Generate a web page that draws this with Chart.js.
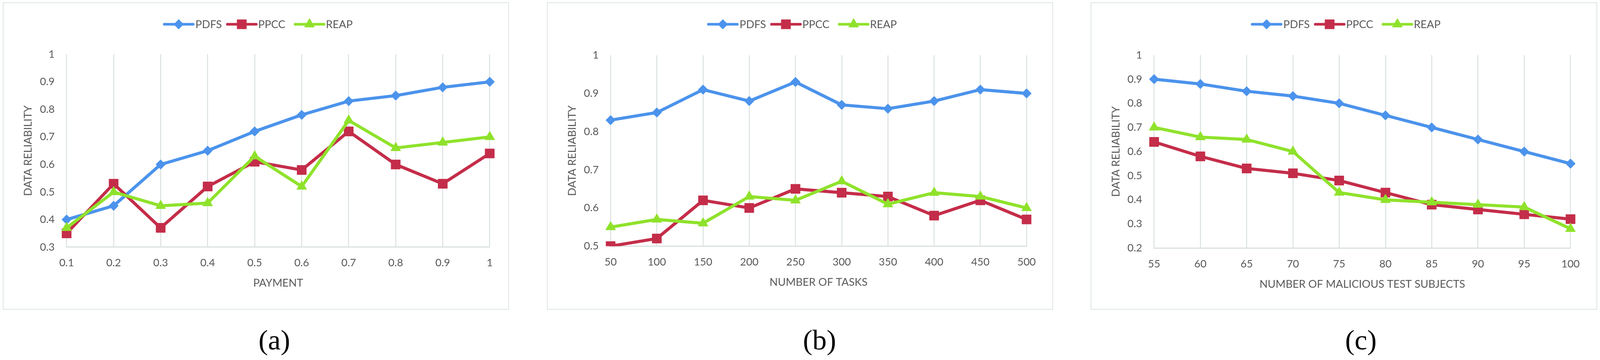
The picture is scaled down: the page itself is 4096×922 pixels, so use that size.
<!DOCTYPE html>
<html>
<head>
<meta charset="utf-8">
<script src="https://cdn.jsdelivr.net/npm/chart.js@4.4.0/dist/chart.umd.min.js"></script>
<style>
  html, body { margin: 0; padding: 0; background: #fff; }
  #page { position: relative; width: 4096px; height: 922px; overflow: hidden; background: #fff; }
  .panel { position: absolute; box-sizing: border-box; border: 2px solid #dde3e3; background: #fff; }
  .panel canvas { position: absolute; left: 0; top: 0; }
  .caption { position: absolute; font-family: "Liberation Serif", "Times New Roman", serif; color: #000;
             line-height: 1; white-space: nowrap; transform: translateX(-50%); }
</style>
</head>
<body>
<div id="page"></div>
<script>
// everything is laid out in reference pixels and drawn at 0.985
const S = 0.985;

const seriesNames = ["PDFS", "PPCC", "REAP"];
const yTitle = "DATA RELIABILITY";

// (a) payment
const paymentLabels = ["0.1", "0.2", "0.3", "0.4", "0.5", "0.6", "0.7", "0.8", "0.9", "1"];
const paymentPDFS = [0.40, 0.45, 0.60, 0.65, 0.72, 0.78, 0.83, 0.85, 0.88, 0.90];
const paymentPPCC = [0.35, 0.53, 0.37, 0.52, 0.61, 0.58, 0.72, 0.60, 0.53, 0.64];
const paymentREAP = [0.37, 0.50, 0.45, 0.46, 0.63, 0.52, 0.76, 0.66, 0.68, 0.70];

// (b) number of tasks
const taskLabels = ["50", "100", "150", "200", "250", "300", "350", "400", "450", "500"];
const taskPDFS = [0.83, 0.85, 0.91, 0.88, 0.93, 0.87, 0.86, 0.88, 0.91, 0.90];
const taskPPCC = [0.50, 0.52, 0.62, 0.60, 0.65, 0.64, 0.63, 0.58, 0.62, 0.57];
const taskREAP = [0.55, 0.57, 0.56, 0.63, 0.62, 0.67, 0.61, 0.64, 0.63, 0.60];

// (c) number of malicious test subjects
const maliciousLabels = ["55", "60", "65", "70", "75", "80", "85", "90", "95", "100"];
const maliciousPDFS = [0.90, 0.88, 0.85, 0.83, 0.80, 0.75, 0.70, 0.65, 0.60, 0.55];
const maliciousPPCC = [0.64, 0.58, 0.53, 0.51, 0.48, 0.43, 0.38, 0.36, 0.34, 0.32];
const maliciousREAP = [0.70, 0.66, 0.65, 0.60, 0.43, 0.40, 0.39, 0.38, 0.37, 0.28];

const TEXT = "#595959";
const GRID = "#dae1e1";
const FONT = "Lato, 'Open Sans', sans-serif";
const colors = ["#4b93ec", "#c42d49", "#8fe22b"];
const pointStyles = ["rectRot", "rect", "triangle"];
const pointRadii = [12.5, 17, 15];

// panel geometry (reference px). chart area given in canvas coords
const BOX_W = 1316, BOX_H = 799, BOX_TOP = 6, BORDER = 2;
const CW = BOX_W - 2 * BORDER, CH = BOX_H - 2 * BORDER;
const panels = [
  { labels: paymentLabels, values: [paymentPDFS, paymentPPCC, paymentREAP], yMin: 0.3,
    xTitle: "PAYMENT", caption: "(a)", boxLeft: 7, captionX: 713,
    left: 164, right: 1264, top: 133, bottom: 634.5 },
  { labels: taskLabels, values: [taskPDFS, taskPPCC, taskREAP], yMin: 0.5,
    xTitle: "NUMBER OF TASKS", caption: "(b)", boxLeft: 1421, captionX: 2130,
    left: 163.6, right: 1245, top: 135.5, bottom: 632 },
  { labels: maliciousLabels, values: [maliciousPDFS, maliciousPPCC, maliciousREAP], yMin: 0.2,
    xTitle: "NUMBER OF MALICIOUS TEST SUBJECTS", caption: "(c)", boxLeft: 2835, captionX: 3537,
    left: 163, right: 1245.5, top: 135, bottom: 637 }
];

// legend offsets from canvas centre
const LEGEND_Y = 55;
const legendLineX = [-238, -74, 102];
const legendTextX = [-157, 6, 182];
const LEGEND_LINE_LEN = 75;

const legendPlugin = {
  id: "refLegend",
  afterDraw(chart) {
    const ctx = chart.ctx;
    const cx = chart.width / 2;
    const cy = LEGEND_Y * S;
    ctx.save();
    chart.data.datasets.forEach((ds, i) => {
      const x0 = cx + legendLineX[i] * S;
      const x1 = x0 + LEGEND_LINE_LEN * S;
      ctx.strokeStyle = ds.borderColor;
      ctx.fillStyle = ds.borderColor;
      ctx.lineWidth = 7 * S;
      ctx.lineCap = "round";
      ctx.beginPath();
      ctx.moveTo(x0, cy);
      ctx.lineTo(x1, cy);
      ctx.stroke();
      ctx.lineWidth = 1;
      Chart.helpers.drawPoint(ctx, { pointStyle: ds.pointStyle, radius: ds.pointRadius, borderWidth: 1, rotation: 0 },
        (x0 + x1) / 2, cy);
      ctx.fillStyle = TEXT;
      ctx.font = (28 * S) + "px " + FONT;
      ctx.textAlign = "left";
      ctx.textBaseline = "middle";
      ctx.fillText(ds.label, cx + legendTextX[i] * S, cy + 1);
    });
    ctx.restore();
  }
};

const page = document.getElementById("page");

panels.forEach((p) => {
  const box = document.createElement("div");
  box.className = "panel";
  box.style.left = (p.boxLeft * S) + "px";
  box.style.top = (BOX_TOP * S) + "px";
  box.style.width = (BOX_W * S) + "px";
  box.style.height = (BOX_H * S) + "px";
  const canvas = document.createElement("canvas");
  canvas.width = Math.round(CW * S);
  canvas.height = Math.round(CH * S);
  box.appendChild(canvas);
  page.appendChild(box);

  const cap = document.createElement("div");
  cap.className = "caption";
  cap.textContent = p.caption;
  cap.style.left = (p.captionX * S) + "px";
  cap.style.top = (848 * S) + "px";
  cap.style.fontSize = (74 * S) + "px";
  page.appendChild(cap);

  const titleHalf = 28 * 1.2 / 2;
  const padLeft = 64 - titleHalf;
  const xHeight = 94 + titleHalf;

  const datasets = seriesNames.map((name, i) => ({
    label: name,
    data: p.values[i],
    borderColor: colors[i],
    backgroundColor: colors[i],
    borderWidth: 8 * S,
    borderJoinStyle: "round",
    borderCapStyle: "round",
    pointStyle: pointStyles[i],
    pointRadius: pointRadii[i] * S,
    pointBackgroundColor: colors[i],
    pointBorderColor: colors[i],
    pointBorderWidth: 1,
    tension: 0,
    order: 2 - i
  }));

  new Chart(canvas.getContext("2d"), {
    type: "line",
    data: { labels: p.labels, datasets: datasets },
    options: {
      responsive: false,
      animation: false,
      layout: {
        padding: {
          left: padLeft * S,
          right: (CW - p.right) * S,
          top: p.top * S,
          bottom: (CH - p.bottom - xHeight) * S
        }
      },
      plugins: { legend: { display: false }, tooltip: { enabled: false } },
      scales: {
        x: {
          type: "category",
          offset: false,
          grid: { display: true, color: GRID, lineWidth: 2.5 * S, drawTicks: false },
          border: { display: true, color: GRID, width: 3 * S },
          ticks: { color: TEXT, font: { family: FONT, size: 27.5 * S }, padding: 24.9 * S,
                   maxRotation: 0, autoSkip: false },
          title: { display: true, text: p.xTitle, color: TEXT, font: { family: FONT, size: 28 * S },
                   padding: 0 },
          afterFit: (s) => { s.height = xHeight * S; }
        },
        y: {
          min: p.yMin,
          max: 1,
          grid: { display: false, drawTicks: false },
          border: { display: false },
          ticks: { stepSize: 0.1, color: TEXT, font: { family: FONT, size: 27.5 * S }, padding: 31 * S,
                   callback: (v) => String(Math.round(v * 10) / 10) },
          title: { display: true, text: yTitle, color: TEXT, font: { family: FONT, size: 28 * S },
                   padding: 0 },
          afterFit: (s) => { s.width = (p.left - padLeft) * S; }
        }
      }
    },
    plugins: [legendPlugin]
  });
});
</script>
</body>
</html>
